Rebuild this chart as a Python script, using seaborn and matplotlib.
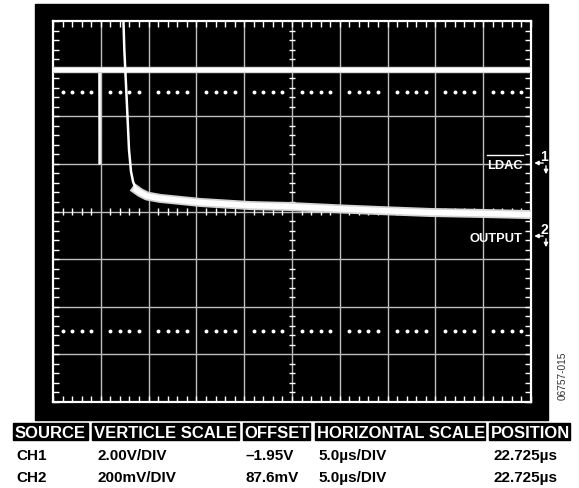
import numpy as np
import pandas as pd
import matplotlib
matplotlib.use("Agg")
import matplotlib.pyplot as plt
from matplotlib.patches import Rectangle, FancyArrowPatch
from matplotlib.lines import Line2D
import seaborn as sns

# ---------------- data ----------------
# CH1 (LDAC), volts, 2.00 V/div
ch1_t = [0.0, 4.82, 4.84, 4.90, 4.92, 50.0]          # µs
ch1_v = [3.95, 3.95, 0.0, 0.0, 3.95, 3.95]           # V
# CH2 (OUTPUT), mV relative to channel ground, 200 mV/div
ch2_t = [7.25, 7.37, 7.46, 7.71, 7.95, 8.16, 8.37, 8.68, 9.10, 9.83,
         11.2, 15.4, 20.6, 24.8, 30.0, 34.2, 39.4, 44.7, 50.0]
ch2_v = [1100, 900, 780, 570, 360, 268, 226, 192, 180, 165,
         155, 138, 125, 121, 111, 104, 96, 92, 87]

ch1_scale, ch1_ground = 2.0, 1.0      # V/div, ground position (div from centre)
ch2_scale, ch2_ground = 200.0, -0.5   # mV/div

header = ["SOURCE", "VERTICLE SCALE", "OFFSET", "HORIZONTAL SCALE", "POSITION"]
row_ch1 = ["CH1", "2.00V/DIV", "\u20131.95V", "5.0\u00b5s/DIV", "22.725\u00b5s"]
row_ch2 = ["CH2", "200mV/DIV", "87.6mV", "5.0\u00b5s/DIV", "22.725\u00b5s"]
fig_id = "06757-015"

# ---------------- figure ----------------
plt.rcParams['font.family'] = ['Liberation Sans', 'DejaVu Sans']
W, H = 579, 489
fig = plt.figure(figsize=(W / 100, H / 100), dpi=100)
fig.patch.set_facecolor("white")

def fx(x):
    return x / W

def fy(y):
    return 1 - y / H

fig.patches.append(Rectangle((fx(35), fy(421)), (548 - 35) / W, (421 - 5) / H,
                             transform=fig.transFigure, color="black", zorder=-5))

ax = fig.add_axes([fx(53), fy(403), 478 / W, 381 / H])
ax.set_zorder(2)
ax.set_facecolor("black")
ax.set_xlim(0, 50)
ax.set_ylim(-4, 4)

# graticule
for x in np.arange(5, 50, 5):
    ax.axvline(x, color="#bdbdbd", lw=1.0, zorder=1)
for y in np.arange(-3, 4, 1):
    ax.axhline(y, color="#bdbdbd", lw=1.0, zorder=1)
for s in ax.spines.values():
    s.set_color("white")
    s.set_linewidth(1.6)

minor_x = [x for x in np.arange(0, 50.01, 1.0) if abs(x % 5) > 1e-6]
minor_y = [y for y in np.round(np.arange(-4, 4.01, 0.2), 2) if abs(y - round(y)) > 1e-6]
ax.set_xticks(np.arange(0, 50.01, 1.0))
ax.set_yticks(np.round(np.arange(-4, 4.01, 0.2), 2))
ax.tick_params(which="both", direction="in", length=4, width=1.0, color="white",
               top=True, right=True, labelleft=False, labelbottom=False)

# centre-line crossing ticks
ax.vlines(minor_x, -0.065, 0.065, color="white", lw=1.0, zorder=2)
ax.hlines(minor_y, 25 - 0.32, 25 + 0.32, color="white", lw=1.0, zorder=2)

# dotted rows
dot_x = minor_x
ax.scatter(dot_x, [2.5] * len(dot_x), s=8, color="white", zorder=2, linewidths=0)
ax.scatter(dot_x, [-2.5] * len(dot_x), s=8, color="white", zorder=2, linewidths=0)

# traces
df1 = pd.DataFrame({"t": ch1_t, "d": np.array(ch1_v) / ch1_scale + ch1_ground})
df2 = pd.DataFrame({"t": ch2_t, "d": np.array(ch2_v) / ch2_scale + ch2_ground})

sns.lineplot(data=df1, x="t", y="d", ax=ax, color="white", lw=1.3,
             sort=False, estimator=None, zorder=4)
df1h = df1.iloc[[0, -1]]
sns.lineplot(data=df1h, x="t", y="d", ax=ax, color="#d4d4d4", lw=4.6,
             sort=False, estimator=None, zorder=4)
sns.lineplot(data=df1h, x="t", y="d", ax=ax, color="white", lw=3.0,
             sort=False, estimator=None, zorder=5)

sns.lineplot(data=df2, x="t", y="d", ax=ax, color="white", lw=1.8,
             sort=False, estimator=None, zorder=5)
tail = df2[df2["t"] >= 8.6]
sns.lineplot(data=tail, x="t", y="d", ax=ax, color="#d4d4d4", lw=6.5,
             sort=False, estimator=None, zorder=4)
sns.lineplot(data=tail, x="t", y="d", ax=ax, color="white", lw=4.0,
             sort=False, estimator=None, zorder=5)
ax.set_xlabel("")
ax.set_ylabel("")

# channel markers
def marker(ypx, num, label, lx):
    fig.add_artist(FancyArrowPatch((fx(546), fy(ypx)), (fx(531.5), fy(ypx)),
                                   transform=fig.transFigure, arrowstyle="-|>",
                                   mutation_scale=6, color="white", lw=1.0))
    fig.add_artist(FancyArrowPatch((fx(546), fy(ypx)), (fx(546), fy(ypx + 14)),
                                   transform=fig.transFigure, arrowstyle="-|>",
                                   mutation_scale=6, color="white", lw=1.0))
    fig.text(fx(540.5), fy(ypx - 2.5), num, color="white", fontsize=10,
             fontweight="bold", ha="left", va="baseline")
    fig.text(fx(lx), fy(ypx + 5), label, color="white", fontsize=9.3,
             fontweight="bold", ha="left", va="baseline", zorder=5)

marker(164, "1", "LDAC", 487)
fig.add_artist(Line2D([fx(487), fx(523)], [fy(156), fy(156)],
                      transform=fig.transFigure, color="white", lw=1.0, zorder=5))
marker(237, "2", "OUTPUT", 470)

fig.text(fx(563), fy(376), fig_id, rotation=90, fontsize=7.3, color="#333333",
         ha="center", va="center")

# table
boxes = [(13, 88), (92, 239), (243, 310), (315, 485), (489, 570)]
for (l, r), txt in zip(boxes, header):
    fig.patches.append(Rectangle((fx(l), fy(441)), (r - l) / W, 17 / H,
                                 transform=fig.transFigure, color="black", zorder=-5))
    fig.text(fx(l + 1.5), fy(438), txt, color="white", fontsize=12,
             fontweight="bold", ha="left", va="baseline")

col_x = [16, 97, 245, 318, 493]
for row, base in ((row_ch1, 460), (row_ch2, 482)):
    for x, txt in zip(col_x, row):
        fig.text(fx(x), fy(base), txt, color="black", fontsize=11,
                 fontweight="bold", ha="left", va="baseline")

fig.savefig("out.png", dpi=100, facecolor="white")
